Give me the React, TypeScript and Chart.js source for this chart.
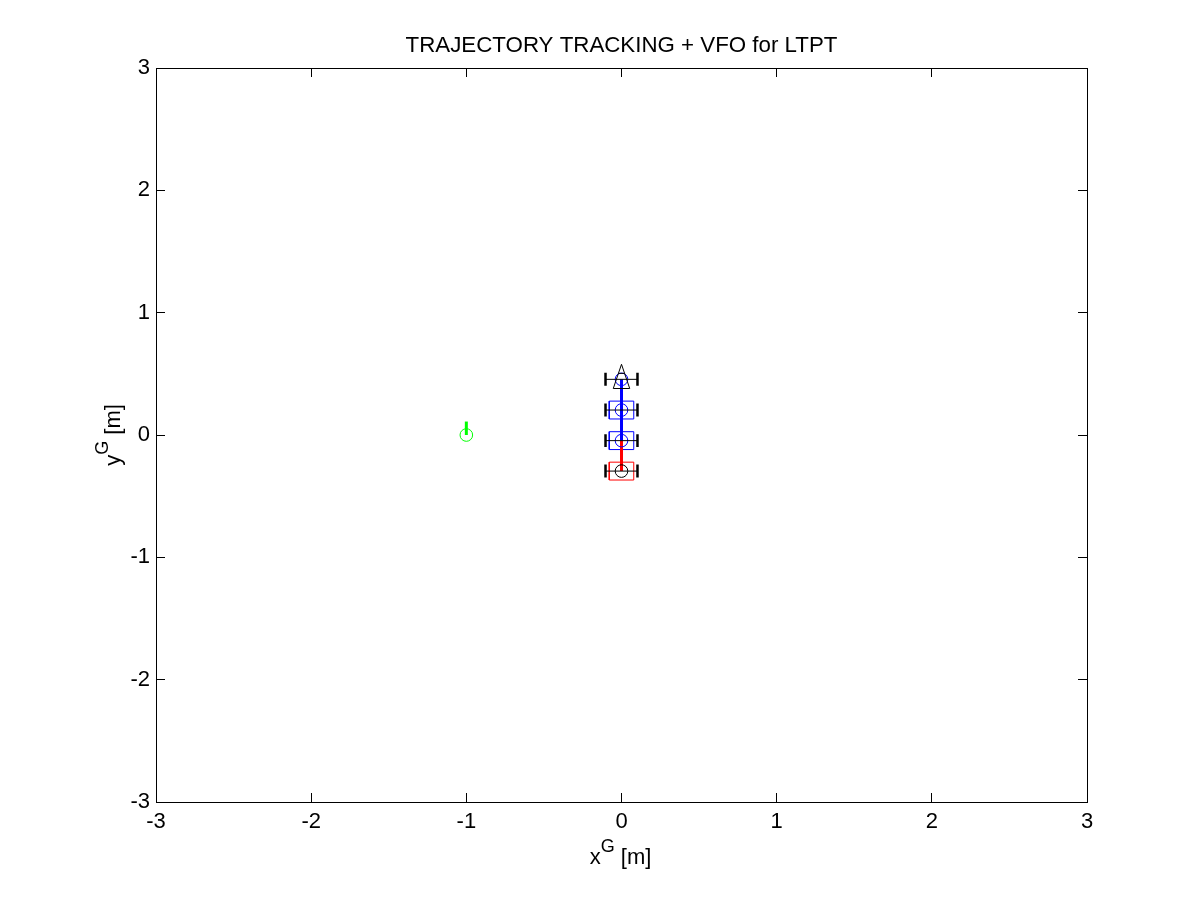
import React, { useEffect, useRef } from "react";
import { Chart, registerables } from "chart.js";

Chart.register(...registerables);

const axisTicks = [-3, -2, -1, 0, 1, 2, 3];
const titleText = "TRAJECTORY TRACKING + VFO for LTPT";
const axleY = [0.455, 0.204, -0.046, -0.295];
const axleX = 0;
const axleHalfLength = 0.103;
const wheelHalfHeight = 0.053;
const blueLinkY = [0.455, -0.046];
const redLinkY = [-0.046, -0.295];
const blueBoxY = [0.204, -0.046];
const redBoxY = [-0.295];
const boxHalfW = 0.079;
const boxHalfH = 0.073;
const blueCircleY = [0.455, 0.204, -0.046];
const blackCircleY = [-0.295];
const triangleX = [-0.053, 0, 0.053, -0.053];
const triangleY = [0.38, 0.578, 0.38, 0.38];
const triangleBarX = [-0.02, 0.02];
const triangleBarY = [0.504, 0.504];
const greenCircle = [{ x: -1, y: 0 }];
const greenLineX = [-1, -1];
const greenLineY = [0, 0.11];

type P = { x: number; y: number };
const gap: P = { x: NaN, y: NaN };

const axlePts: P[] = axleY.flatMap((y) => [
  { x: axleX - axleHalfLength, y },
  { x: axleX + axleHalfLength, y },
  gap,
]);
const wheelPts: P[] = axleY.flatMap((y) =>
  [-axleHalfLength, axleHalfLength].flatMap((dx) => [
    { x: axleX + dx, y: y - wheelHalfHeight },
    { x: axleX + dx, y: y + wheelHalfHeight },
    gap,
  ])
);
const boxPts = (ys: number[]): P[] =>
  ys.flatMap((y) => [
    { x: -boxHalfW, y: y - boxHalfH },
    { x: boxHalfW, y: y - boxHalfH },
    { x: boxHalfW, y: y + boxHalfH },
    { x: -boxHalfW, y: y + boxHalfH },
    { x: -boxHalfW, y: y - boxHalfH },
    gap,
  ]);
const linkPts = (ys: number[]): P[] => ys.map((y) => ({ x: axleX, y }));
const circlePts = (ys: number[]): P[] => ys.map((y) => ({ x: axleX, y }));
const zip = (xs: number[], ys: number[]): P[] => xs.map((x, i) => ({ x, y: ys[i] }));

const FONT = "'Liberation Sans', Arial, sans-serif";

const line = (data: P[], color: string, width: number, order: number) => ({
  type: "scatter" as const,
  data,
  showLine: true,
  spanGaps: false,
  borderColor: color,
  borderWidth: width,
  borderCapStyle: "butt" as const,
  pointRadius: 0,
  fill: false,
  order,
});
const circles = (data: P[], color: string, order: number) => ({
  type: "scatter" as const,
  data,
  showLine: false,
  pointStyle: "circle" as const,
  pointRadius: 6.3,
  pointBorderColor: color,
  pointBackgroundColor: "rgba(0,0,0,0)",
  pointBorderWidth: 1,
  order,
});

const superscriptLabels = {
  id: "superscriptLabels",
  afterDraw(chart: any) {
    const { ctx, chartArea } = chart;
    const draw = (base: string) => {
      const tail = " [m]";
      ctx.font = `22px ${FONT}`;
      const b = ctx.measureText(base).width;
      const t = ctx.measureText(tail).width;
      ctx.font = `18px ${FONT}`;
      const g = ctx.measureText("G").width;
      let x = -(b + g + t) / 2;
      ctx.textBaseline = "alphabetic";
      ctx.textAlign = "left";
      ctx.fillStyle = "#000";
      ctx.font = `22px ${FONT}`;
      ctx.fillText(base, x, 0);
      x += b;
      ctx.font = `18px ${FONT}`;
      ctx.fillText("G", x, -12);
      x += g;
      ctx.font = `22px ${FONT}`;
      ctx.fillText(tail, x, 0);
    };
    ctx.save();
    ctx.translate((chartArea.left + chartArea.right) / 2 - 1, 864);
    draw("x");
    ctx.restore();
    ctx.save();
    ctx.translate(120, (chartArea.top + chartArea.bottom) / 2);
    ctx.rotate(-Math.PI / 2);
    draw("y");
    ctx.restore();
  },
};

export default function App() {
  const ref = useRef<HTMLCanvasElement>(null);
  useEffect(() => {
    document.body.style.margin = "0";
    document.body.style.background = "#fff";
    const sized = (prop: "width" | "height", v: number) => (s: any) => {
      s[prop] = v;
    };
    const tickValues = (axis: any) => {
      axis.ticks = axisTicks.map((value) => ({ value }));
    };
    const grid = {
      drawOnChartArea: false,
      drawTicks: true,
      tickLength: -9,
      tickColor: "#000",
      tickWidth: 1,
    };
    const border = { display: true, color: "#000", width: 1 };
    const labelTicks = (padding: number) => ({
      color: "#000",
      font: { family: FONT, size: 22 },
      padding,
      maxRotation: 0,
      autoSkip: false,
    });
    const chart = new Chart(ref.current!, {
      type: "scatter",
      data: {
        datasets: [
          line(axlePts, "#000", 1, 1),
          line(wheelPts, "#000", 2.5, 1),
          line(zip(triangleX, triangleY), "#000", 1, 2),
          line(zip(triangleBarX, triangleBarY), "#000", 1, 2),
          circles(circlePts(blueCircleY), "#0000ff", 3),
          circles(circlePts(blackCircleY), "#000", 3),
          line(linkPts(blueLinkY), "#0000ff", 3, 4),
          line(linkPts(redLinkY), "#ff0000", 3, 5),
          line(boxPts(blueBoxY), "#0000ff", 1, 6),
          line(boxPts(redBoxY), "#ff0000", 1, 6),
          line(zip(greenLineX, greenLineY), "#00ff00", 3, 7),
          circles(greenCircle, "#00ff00", 8),
        ] as any,
      },
      options: {
        animation: false,
        responsive: false,
        layout: { padding: 0 },
        plugins: {
          legend: { display: false },
          tooltip: { enabled: false },
          title: {
            display: true,
            text: titleText,
            color: "#000",
            fullSize: false,
            font: { family: FONT, size: 22.3, weight: "normal", lineHeight: 1 },
            padding: { top: 35, bottom: 10.7 },
          },
        },
        scales: {
          x: {
            type: "linear",
            position: "bottom",
            min: -3,
            max: 3,
            afterBuildTicks: tickValues,
            grid,
            border,
            ticks: labelTicks(16),
            afterFit: sized("height", 99),
          },
          y: {
            type: "linear",
            position: "left",
            min: -3,
            max: 3,
            afterBuildTicks: tickValues,
            grid,
            border,
            ticks: labelTicks(15),
            afterFit: sized("width", 156),
          },
          xTop: {
            type: "linear",
            position: "top",
            min: -3,
            max: 3,
            afterBuildTicks: tickValues,
            grid,
            border,
            ticks: { display: false },
            afterFit: sized("height", 0),
          },
          yRight: {
            type: "linear",
            position: "right",
            min: -3,
            max: 3,
            afterBuildTicks: tickValues,
            grid,
            border,
            ticks: { display: false },
            afterFit: sized("width", 114),
          },
        },
      } as any,
      plugins: [superscriptLabels],
    });
    return () => chart.destroy();
  }, []);
  return (
    <div style={{ position: "fixed", left: 0, top: 0, width: 1201, height: 901, overflow: "hidden", background: "#fff" }}>
      <canvas ref={ref} width={1201} height={901} style={{ display: "block" }} />
    </div>
  );
}
